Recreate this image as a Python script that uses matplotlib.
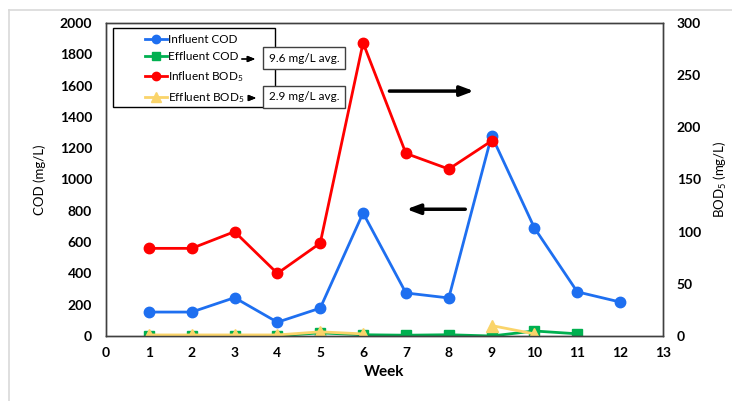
import matplotlib
matplotlib.use("Agg")
import matplotlib.pyplot as plt
import numpy as np
from matplotlib.lines import Line2D
from matplotlib.patches import Rectangle

plt.rcParams["font.family"] = ["Lato", "DejaVu Sans"]
plt.rcParams["mathtext.fontset"] = "custom"
plt.rcParams["mathtext.rm"] = "Lato"
plt.rcParams["mathtext.default"] = "regular"

weeks = np.arange(1, 13)
influent_cod = [153, 153, 245, 88, 178, 786, 275, 243, 1280, 690, 282, 217]
effluent_cod = [2, 2, 2, 2, 20, 8, 5, 8, 0, 32, 14, np.nan]
influent_bod = [84, 84, 100, 60, 89, 281, 175, 160, 187, np.nan, np.nan, np.nan]
effluent_bod = [1, 1, 1, 1, 4, 2, np.nan, np.nan, 10, 2, np.nan, np.nan]

C_BLUE = "#1E6FF0"
C_GREEN = "#00B050"
C_RED = "#FF0000"
C_YELLOW = "#FAD46A"

W, H = 732, 401


def fx(px):
    return px / W


def fy(py):
    return 1 - py / H


fig = plt.figure(figsize=(W / 100, H / 100), dpi=100)
# light page border (left and top)
fig.add_artist(Line2D([fx(9), fx(9)], [0, fy(10)], color="#D9D9D9", lw=1.2))
fig.add_artist(Line2D([fx(9), 1], [fy(10), fy(10)], color="#D9D9D9", lw=1.2))

ax = fig.add_axes([fx(106), fy(336), 557 / W, 313 / H])
ax2 = ax.twinx()

ax.plot(weeks, influent_cod, color=C_BLUE, marker="o", markersize=7.5, linewidth=2)
ax.plot(weeks, effluent_cod, color=C_GREEN, marker="s", markersize=7.5, linewidth=2)
ax2.plot(weeks, influent_bod, color=C_RED, marker="o", markersize=7.5, linewidth=2)
ax2.plot(weeks, effluent_bod, color=C_YELLOW, marker="^", markersize=8, linewidth=2)

ax.set_xlim(0, 13)
ax.set_ylim(0, 2000)
ax2.set_ylim(0, 300)
ax.set_xticks(range(0, 14))
ax.set_yticks(range(0, 2001, 200))
ax2.set_yticks(range(0, 301, 50))

for a in (ax, ax2):
    a.tick_params(length=0, labelsize=10, pad=10)
    for lab in a.get_xticklabels() + a.get_yticklabels():
        lab.set_fontweight("bold")
    for s in a.spines.values():
        s.set_color("#404040")
        s.set_linewidth(1)
ax.tick_params(axis="x", pad=8)

ax.set_xlabel("Week", fontsize=11, fontweight="bold", labelpad=4)
ax.set_ylabel("COD (mg/L)", fontsize=9.5, labelpad=10)
ax2.set_ylabel("BOD$_5$ (mg/L)", fontsize=9.5, labelpad=8)

# direction arrows
big = dict(arrowstyle="-|>,head_length=0.8,head_width=0.3", color="black", lw=2.5)
ax.annotate("", xy=(8.65, 1565), xytext=(6.55, 1565), arrowprops=big)
ax.annotate("", xy=(6.95, 810), xytext=(8.45, 810), arrowprops=big)

handles = [
    Line2D([], [], color=C_BLUE, marker="o", markersize=6, linewidth=2),
    Line2D([], [], color=C_GREEN, marker="s", markersize=6, linewidth=2),
    Line2D([], [], color=C_RED, marker="o", markersize=6, linewidth=2),
    Line2D([], [], color=C_YELLOW, marker="^", markersize=7, linewidth=2),
]
labels = ["Influent COD", "Effluent COD", "Influent BOD$_5$", "Effluent BOD$_5$"]
ax2.legend(handles, labels, loc="upper left", bbox_to_anchor=(fx(145), fy(34)),
           bbox_transform=fig.transFigure, fontsize=8.5, frameon=False,
           handlelength=1.85, handletextpad=0.12, borderpad=0, labelspacing=0.55,
           borderaxespad=0)
fig.patches.append(Rectangle((fx(113), fy(107)), 162 / W, 79 / H, transform=fig.transFigure,
                             fill=False, edgecolor="black", linewidth=1))

# average boxes
box = dict(boxstyle="square,pad=0.45", facecolor="white", edgecolor="#404040", linewidth=1)
fig.text(fx(304), fy(58), "9.6 mg/L avg.", fontsize=8.5, ha="center", va="center", bbox=box, zorder=10)
fig.text(fx(304), fy(97), "2.9 mg/L avg.", fontsize=8.5, ha="center", va="center", bbox=box, zorder=10)
small = dict(arrowstyle="-|>,head_length=0.45,head_width=0.18", color="black", lw=0.9)
fig.add_artist(plt.annotate("", xy=(fx(258), fy(59)), xytext=(fx(239), fy(59)),
                            xycoords="figure fraction", arrowprops=small))
fig.add_artist(plt.annotate("", xy=(fx(259), fy(98)), xytext=(fx(248), fy(98)),
                            xycoords="figure fraction", arrowprops=small))

fig.savefig("out.png", dpi=100)
